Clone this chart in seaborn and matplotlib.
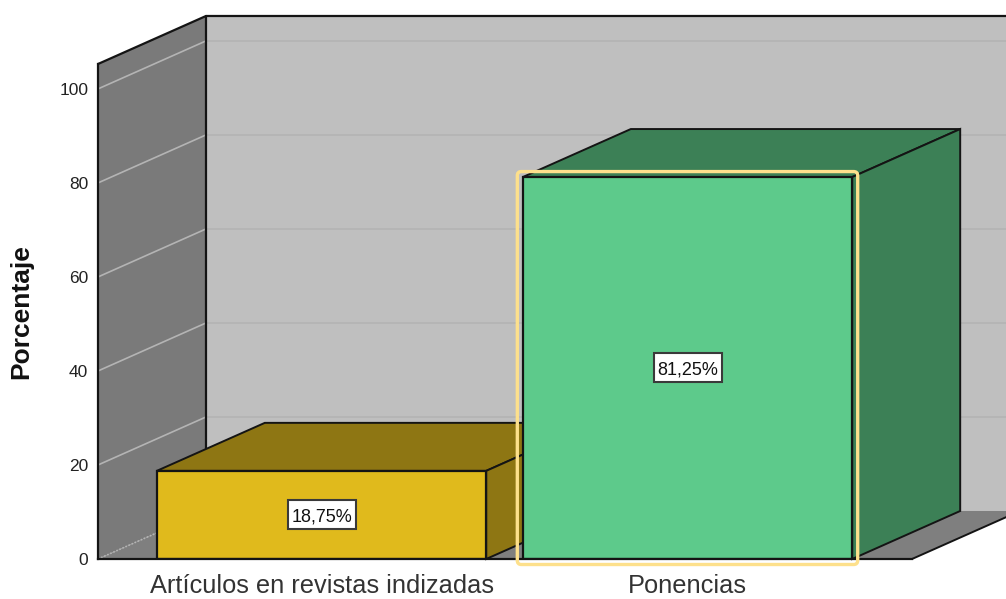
import matplotlib
matplotlib.use("Agg")
import matplotlib.pyplot as plt
import seaborn as sns
from matplotlib.patches import Polygon, FancyBboxPatch, Rectangle
from matplotlib.transforms import IdentityTransform

categories = ["Artículos en revistas indizadas", "Ponencias"]
values = [18.75, 81.25]
value_labels = ["18,75%", "81,25%"]
y_ticks = [0, 20, 40, 60, 80, 100]
y_label = "Porcentaje"
front_colors = ["#e0ba1c", "#5dca8b"]
depth_colors = ["#8e7613", "#3c8056"]

sns.set_style("white")
plt.rcParams["font.family"] = ["Liberation Sans", "DejaVu Sans"]

W, H = 1006, 599
fig = plt.figure(figsize=(W / 100, H / 100), dpi=100)
ax = fig.add_axes([98 / W, (H - 559) / H, (912 - 98) / W, (559 - 64) / H])

sns.barplot(x=categories, y=values, hue=categories, palette=front_colors,
            saturation=1, width=0.9, edgecolor="#141414", linewidth=1.6,
            legend=False, ax=ax)

ax.set_xlim(-0.6107, 1.6134)
ax.set_ylim(0, 105.3)
dx, dy = 108 / 366, 48 / 4.7
x0, x1 = ax.get_xlim()
ytop = ax.get_ylim()[1]
xfar = x1 + dx
ink = "#141414"


def poly(pts, face, z, edge="none", lw=0):
    ax.add_patch(Polygon(pts, closed=True, facecolor=face, edgecolor=edge,
                         linewidth=lw, zorder=z, clip_on=False))


# back wall, side wall, floor
poly([(x0 + dx, dy), (x0 + dx, ytop + dy), (xfar, ytop + dy), (xfar, dy)], "#bfbfbf", 0.1)
poly([(x0, 0), (x0, ytop), (x0 + dx, ytop + dy), (x0 + dx, dy)], "#7a7a7a", 0.2)
poly([(x0, 0), (x0 + dx, dy), (xfar, dy), (x1, 0)], "#7f7f7f", 0.2)
ax.plot([x1, xfar], [0, dy], color=ink, lw=1.4, zorder=0.3, clip_on=False)

# grid lines
for t in y_ticks[1:]:
    ax.plot([x0 + dx, xfar], [t + dy, t + dy], color="#b5b5b5", lw=1.4, zorder=0.3, clip_on=False)
    ax.plot([x0, x0 + dx], [t, t + dy], color="#b4b4b4", lw=1.2, zorder=0.4, clip_on=False)
ax.plot([x0, x0 + dx], [0, dy], color="#b4b4b4", lw=1.2, ls=(0, (1, 1)), zorder=0.4, clip_on=False)

# wall outline
ax.plot([x0, x0 + dx, xfar], [ytop, ytop + dy, ytop + dy], color=ink, lw=1.6, zorder=0.5, clip_on=False)
ax.plot([x0 + dx, x0 + dx], [dy, ytop + dy], color=ink, lw=1.6, zorder=0.5, clip_on=False)

# bar depth faces, built from the bars seaborn drew
bars = [c[0] for c in ax.containers]
labels = []
for i, bar in enumerate(bars):
    l, r, h = bar.get_x(), bar.get_x() + bar.get_width(), bar.get_height()
    z = 3 + 2 * i
    poly([(l, h), (l + dx, h + dy), (r + dx, h + dy), (r, h)], depth_colors[i], z, ink, 1.4)
    poly([(r, 0), (r + dx, dy), (r + dx, h + dy), (r, h)], depth_colors[i], z, ink, 1.4)
    bar.set_zorder(z + 1)
    labels.append(ax.text((l + r) / 2, h / 2, value_labels[i], ha="center",
                          va="center_baseline", fontsize=13, color="#111111", zorder=8.5))

fig.canvas.draw()
renderer = fig.canvas.get_renderer()

# white boxes behind the value labels
for i, bar in enumerate(bars):
    cx, cy = ax.transData.transform((bar.get_x() + bar.get_width() / 2, bar.get_height() / 2))
    ax.add_artist(Rectangle((cx - 34, cy - 14), 68, 29, facecolor="white", edgecolor="#3a3a3a",
                            linewidth=1.5, transform=IdentityTransform(), zorder=8, clip_on=False))

# selection frame around the second bar
sel = bars[1]
(px0, py0) = ax.transData.transform((sel.get_x(), 0))
(px1, py1) = ax.transData.transform((sel.get_x() + sel.get_width(), sel.get_height()))
pad = 5.5
ax.add_artist(FancyBboxPatch((px0 - pad, py0 - pad), px1 - px0 + 2 * pad, py1 - py0 + 2 * pad,
                             boxstyle="round,pad=0,rounding_size=4",
                             facecolor="none", edgecolor="#fde08c", linewidth=2.4,
                             transform=IdentityTransform(), zorder=9, clip_on=False))

for s in ["top", "right"]:
    ax.spines[s].set_visible(False)
for s in ["left", "bottom"]:
    ax.spines[s].set_color(ink)
    ax.spines[s].set_linewidth(1.6)
ax.spines["bottom"].set_zorder(7)

ax.set_yticks(y_ticks)
ax.tick_params(axis="y", length=0, pad=7, labelsize=12.5, labelcolor="#222222")
ax.tick_params(axis="x", length=0, pad=11, labelsize=18.3, labelcolor="#333333")
ax.set_xlabel("")
ax.set_ylabel(y_label, fontsize=19, fontweight="bold", color="#111111", labelpad=0)
ax.yaxis.set_label_coords((33 - 98) / (912 - 98), (559 - 312) / (559 - 64))

fig.savefig("out.png", dpi=100)
